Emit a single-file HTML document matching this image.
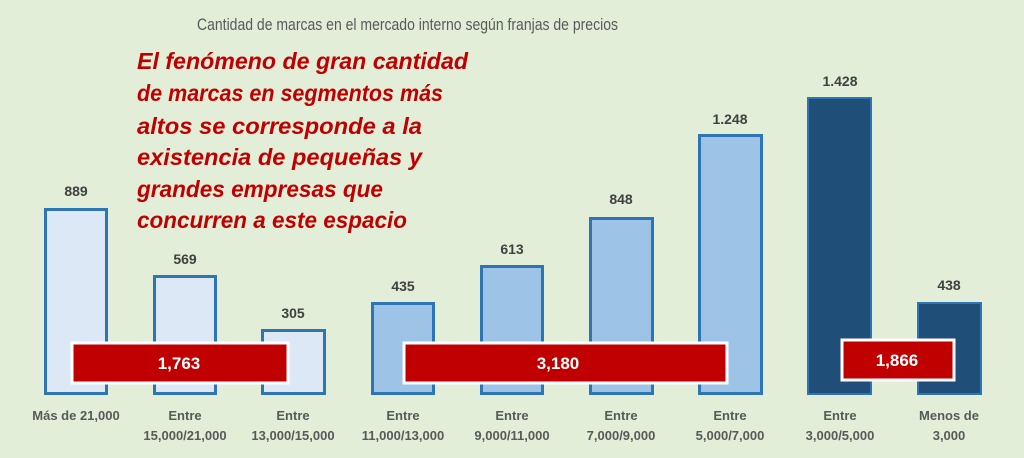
<!DOCTYPE html>
<html><head><meta charset="utf-8"><style>
html,body{margin:0;padding:0;background:#e2eed8;}
svg{display:block}
text{font-family:"Liberation Sans",sans-serif;}
</style></head><body>
<svg width="1024" height="458" viewBox="0 0 1024 458" xmlns="http://www.w3.org/2000/svg">
<rect width="1024" height="458" fill="#e2eed8"/>
<text x="197" y="30" font-size="17" fill="#595959" textLength="421" lengthAdjust="spacingAndGlyphs">Cantidad de marcas en el mercado interno según franjas de precios</text>
<g font-size="23" font-weight="bold" font-style="italic" fill="#c00000" lengthAdjust="spacingAndGlyphs">
<text x="137" y="69" textLength="331" lengthAdjust="spacingAndGlyphs">El fenómeno de gran cantidad</text>
<text x="137" y="101" textLength="306" lengthAdjust="spacingAndGlyphs">de marcas en segmentos más</text>
<text x="137" y="134" textLength="285" lengthAdjust="spacingAndGlyphs">altos se corresponde a la</text>
<text x="137" y="165" textLength="285" lengthAdjust="spacingAndGlyphs">existencia de pequeñas y</text>
<text x="137" y="197" textLength="246" lengthAdjust="spacingAndGlyphs">grandes empresas que</text>
<text x="137" y="228" textLength="270" lengthAdjust="spacingAndGlyphs">concurren a este espacio</text>
</g>
<g stroke="#2e75b6" stroke-width="3">
<rect x="45.5" y="209.5" width="61" height="184" fill="#dce8f6"/>
<rect x="154.5" y="276.5" width="61" height="117" fill="#dce8f6"/>
<rect x="262.5" y="330.5" width="62" height="63" fill="#dce8f6"/>
<rect x="372.5" y="303.5" width="61" height="90" fill="#9dc3e6"/>
<rect x="481.5" y="266.5" width="61" height="127" fill="#9dc3e6"/>
<rect x="590.5" y="218.5" width="62" height="175" fill="#9dc3e6"/>
<rect x="699.5" y="135.5" width="62" height="258" fill="#9dc3e6"/>
</g>
<g stroke="#2e75b6" stroke-width="2" fill="#1f4e79">
<rect x="808" y="98" width="63" height="296"/>
<rect x="918" y="303" width="63" height="91"/>
</g>
<g font-size="14" font-weight="bold" fill="#404040" text-anchor="middle">
<text x="76" y="196">889</text>
<text x="185" y="264">569</text>
<text x="293" y="318">305</text>
<text x="403" y="291">435</text>
<text x="512" y="254">613</text>
<text x="621" y="204">848</text>
<text x="730" y="124">1.248</text>
<text x="840" y="86">1.428</text>
<text x="949" y="290">438</text>
</g>
<g fill="#c00000" stroke="#fff" stroke-width="3">
<rect x="72" y="343" width="216" height="40"/>
<rect x="404" y="343" width="323" height="40"/>
<rect x="842" y="340" width="112" height="40"/>
</g>
<g font-size="17" font-weight="bold" fill="#fff" text-anchor="middle">
<text x="179" y="369">1,763</text>
<text x="558" y="369">3,180</text>
<text x="897" y="366">1,866</text>
</g>
<g font-size="13" font-weight="bold" fill="#595959" text-anchor="middle">
<text x="76" y="420">Más de 21,000</text>
<text x="185" y="420">Entre</text><text x="185" y="440">15,000/21,000</text>
<text x="293" y="420">Entre</text><text x="293" y="440">13,000/15,000</text>
<text x="403" y="420">Entre</text><text x="403" y="440">11,000/13,000</text>
<text x="512" y="420">Entre</text><text x="512" y="440">9,000/11,000</text>
<text x="621" y="420">Entre</text><text x="621" y="440">7,000/9,000</text>
<text x="730" y="420">Entre</text><text x="730" y="440">5,000/7,000</text>
<text x="840" y="420">Entre</text><text x="840" y="440">3,000/5,000</text>
<text x="949" y="420">Menos de</text><text x="949" y="440">3,000</text>
</g>
</svg>
</body></html>
